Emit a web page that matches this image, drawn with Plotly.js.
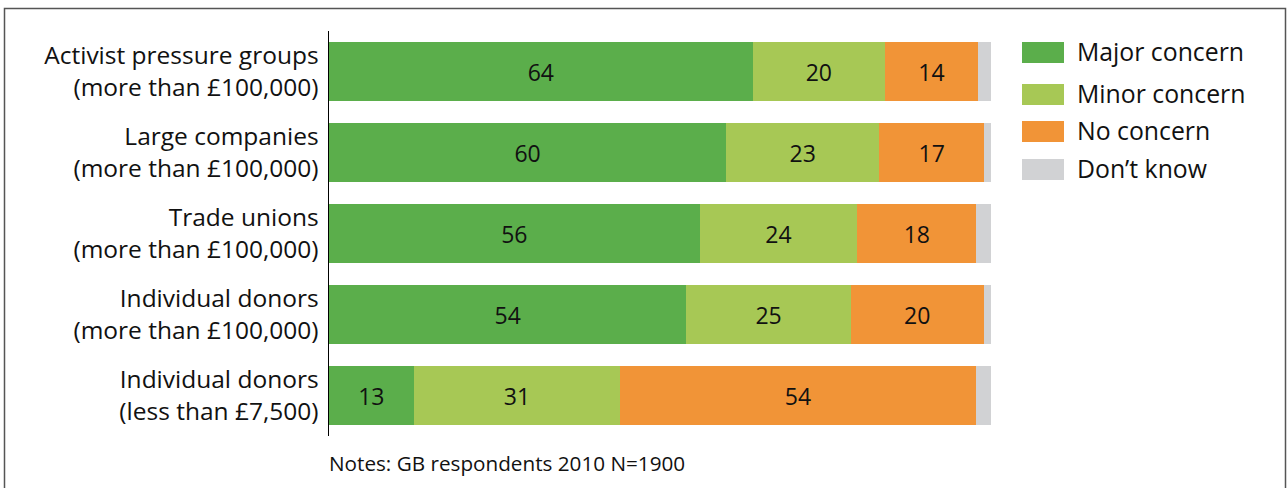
<!DOCTYPE html>
<html><head><meta charset="utf-8">
<script src="https://cdn.plot.ly/plotly-3.0.1.min.js"></script>
<style>html,body{margin:0;padding:0;background:#fff;}#chart{width:1287px;height:488px;}</style>
</head><body><div id="chart"></div>
<script>
var categories = [
  "Activist pressure groups<br>(more than £100,000)",
  "Large companies<br>(more than £100,000)",
  "Trade unions<br>(more than £100,000)",
  "Individual donors<br>(more than £100,000)",
  "Individual donors<br>(less than £7,500)"
];
var seriesNames = ["Major concern", "Minor concern", "No concern", "Don\u2019t know"];
var majorValues = [64, 60, 56, 54, 12.8];
var minorValues = [20, 23.1, 23.8, 24.8, 31.2];
var noValues    = [14, 15.9, 18, 20.1, 53.7];
var dkValues    = [2, 1, 2.2, 1.1, 2.3];
var majorLabels = ["64", "60", "56", "54", "13"];
var minorLabels = ["20", "23", "24", "25", "31"];
var noLabels    = ["14", "17", "18", "20", "54"];
var colors = ["#5bae4b", "#a7c855", "#f19437", "#d1d2d4"];
var notes = "Notes: GB respondents 2010 N=1900";

var FONT = "Open Sans, Noto Sans, sans-serif";
var L = 329, T = 31, W = 662, H = 405;
function px2x(p){ return (p - L) / W; }
function py2y(p){ return 1 - (p - T) / H; }

var values = [majorValues, minorValues, noValues, dkValues];
var labels = [majorLabels, minorLabels, noLabels, null];
var data = values.map(function(v, i){
  return {
    type: "bar", orientation: "h", y: categories, x: v, name: seriesNames[i],
    marker: {color: colors[i], line: {width: 0}},
    text: labels[i] || undefined,
    texttemplate: labels[i] ? "%{text}" : "",
    textposition: labels[i] ? "inside" : "none",
    insidetextanchor: "middle",
    constraintext: "none",
    textfont: {family: FONT, size: 23, color: "#111"},
    hoverinfo: "skip", showlegend: false
  };
});

var shapes = [{
  type: "rect", xref: "paper", yref: "paper",
  x0: px2x(4.5), x1: px2x(1285.5), y0: py2y(8.5), y1: py2y(495),
  line: {color: "#555", width: 1.5}, fillcolor: "rgba(0,0,0,0)", layer: "below"
}];
var annotations = [];
var legendTops = [42, 84, 121, 159];
seriesNames.forEach(function(n, i){
  var top = legendTops[i];
  shapes.push({type: "rect", xref: "paper", yref: "paper",
    x0: px2x(1022), x1: px2x(1064), y0: py2y(top), y1: py2y(top + 21),
    line: {width: 0}, fillcolor: colors[i]});
  annotations.push({xref: "paper", yref: "paper", x: px2x(1075), y: py2y(top + 9),
    xanchor: "left", yanchor: "middle", showarrow: false, text: n,
    font: {family: FONT, size: 24.8, color: "#111"}});
});
annotations.push({xref: "paper", yref: "paper", x: px2x(327), y: py2y(463),
  xanchor: "left", yanchor: "middle", showarrow: false, text: notes,
  font: {family: FONT, size: 20.7, color: "#111"}});

var layout = {
  width: 1287, height: 488,
  margin: {l: L, r: 1287 - L - W, t: T, b: 488 - T - H, pad: 0},
  paper_bgcolor: "#fff", plot_bgcolor: "#fff",
  barmode: "stack", bargap: 0.275, showlegend: false,
  xaxis: {range: [0, 100], visible: false, fixedrange: true},
  yaxis: {type: "category", range: [4.5, -0.5], showline: true, linecolor: "#000", linewidth: 1.5,
    ticks: "outside", ticklen: 4, tickcolor: "rgba(0,0,0,0)", showgrid: false, zeroline: false,
    tickfont: {family: FONT, size: 24.5, color: "#111"}, fixedrange: true},
  shapes: shapes, annotations: annotations
};
Plotly.newPlot("chart", data, layout, {displayModeBar: false, staticPlot: true});
</script></body></html>
